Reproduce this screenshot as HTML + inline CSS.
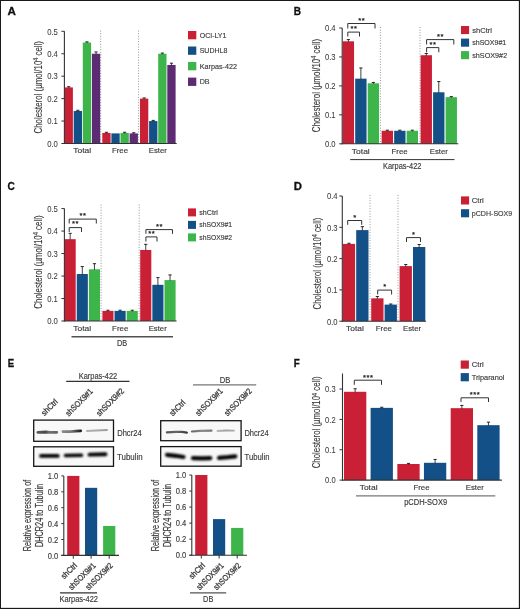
<!DOCTYPE html>
<html><head><meta charset="utf-8"><style>
html,body{margin:0;padding:0;background:#fff;}
svg{display:block;will-change:transform;font-family:"Liberation Sans",sans-serif;}
</style></head><body>
<svg width="520" height="609" viewBox="0 0 520 609">
<rect x="0" y="0" width="520" height="609" fill="#fff"/>
<text transform="translate(7.60,15.20) scale(1.0574,1)" font-size="11" text-anchor="start" fill="#111" font-weight="bold" stroke="#111" stroke-width="0.3">A</text>
<line x1="100.70" y1="30.60" x2="100.70" y2="143.50" stroke="#8a8a8a" stroke-width="0.9" stroke-dasharray="1,1.65"/>
<line x1="138.60" y1="30.60" x2="138.60" y2="143.50" stroke="#8a8a8a" stroke-width="0.9" stroke-dasharray="1,1.65"/>
<rect x="64.60" y="87.40" width="8.30" height="56.10" fill="#c92036"/>
<line x1="68.75" y1="86.73" x2="68.75" y2="87.90" stroke="#111" stroke-width="0.8"/>
<line x1="67.15" y1="86.73" x2="70.35" y2="86.73" stroke="#111" stroke-width="0.9"/>
<rect x="73.70" y="110.96" width="8.30" height="32.54" fill="#125087"/>
<line x1="77.85" y1="110.29" x2="77.85" y2="111.46" stroke="#111" stroke-width="0.8"/>
<line x1="76.25" y1="110.29" x2="79.45" y2="110.29" stroke="#111" stroke-width="0.9"/>
<rect x="82.80" y="42.52" width="8.30" height="100.98" fill="#3db54b"/>
<line x1="86.95" y1="41.85" x2="86.95" y2="43.02" stroke="#111" stroke-width="0.8"/>
<line x1="85.35" y1="41.85" x2="88.55" y2="41.85" stroke="#111" stroke-width="0.9"/>
<rect x="91.90" y="53.74" width="8.30" height="89.76" fill="#5d2a74"/>
<line x1="96.05" y1="51.94" x2="96.05" y2="54.24" stroke="#111" stroke-width="0.8"/>
<line x1="94.45" y1="51.94" x2="97.65" y2="51.94" stroke="#111" stroke-width="0.9"/>
<rect x="102.30" y="132.95" width="8.30" height="10.55" fill="#c92036"/>
<line x1="106.45" y1="132.28" x2="106.45" y2="133.45" stroke="#111" stroke-width="0.8"/>
<line x1="104.85" y1="132.28" x2="108.05" y2="132.28" stroke="#111" stroke-width="0.9"/>
<rect x="111.40" y="133.40" width="8.30" height="10.10" fill="#125087"/>
<rect x="120.50" y="132.95" width="8.30" height="10.55" fill="#3db54b"/>
<line x1="124.65" y1="132.28" x2="124.65" y2="133.45" stroke="#111" stroke-width="0.8"/>
<line x1="123.05" y1="132.28" x2="126.25" y2="132.28" stroke="#111" stroke-width="0.9"/>
<rect x="129.60" y="133.40" width="8.30" height="10.10" fill="#5d2a74"/>
<line x1="133.75" y1="132.73" x2="133.75" y2="133.90" stroke="#111" stroke-width="0.8"/>
<line x1="132.15" y1="132.73" x2="135.35" y2="132.73" stroke="#111" stroke-width="0.9"/>
<rect x="140.00" y="98.62" width="8.30" height="44.88" fill="#c92036"/>
<line x1="144.15" y1="97.95" x2="144.15" y2="99.12" stroke="#111" stroke-width="0.8"/>
<line x1="142.55" y1="97.95" x2="145.75" y2="97.95" stroke="#111" stroke-width="0.9"/>
<rect x="149.10" y="121.06" width="8.30" height="22.44" fill="#125087"/>
<line x1="153.25" y1="120.39" x2="153.25" y2="121.56" stroke="#111" stroke-width="0.8"/>
<line x1="151.65" y1="120.39" x2="154.85" y2="120.39" stroke="#111" stroke-width="0.9"/>
<rect x="158.20" y="53.74" width="8.30" height="89.76" fill="#3db54b"/>
<line x1="162.35" y1="53.07" x2="162.35" y2="54.24" stroke="#111" stroke-width="0.8"/>
<line x1="160.75" y1="53.07" x2="163.95" y2="53.07" stroke="#111" stroke-width="0.9"/>
<rect x="167.30" y="64.96" width="8.30" height="78.54" fill="#5d2a74"/>
<line x1="171.45" y1="63.16" x2="171.45" y2="65.46" stroke="#111" stroke-width="0.8"/>
<line x1="169.85" y1="63.16" x2="173.05" y2="63.16" stroke="#111" stroke-width="0.9"/>
<line x1="64.40" y1="31.30" x2="64.40" y2="144.00" stroke="#333333" stroke-width="1.1"/>
<line x1="63.90" y1="143.50" x2="176.70" y2="143.50" stroke="#333333" stroke-width="1.1"/>
<line x1="61.40" y1="143.50" x2="64.40" y2="143.50" stroke="#333333" stroke-width="1"/>
<text transform="translate(57.90,146.81) scale(0.9275,1)" font-size="8.3" text-anchor="end" fill="#3a3a3a" stroke="#3a3a3a" stroke-width="0.05">0.0</text>
<line x1="61.40" y1="121.06" x2="64.40" y2="121.06" stroke="#333333" stroke-width="1"/>
<text transform="translate(57.90,124.37) scale(0.9275,1)" font-size="8.3" text-anchor="end" fill="#3a3a3a" stroke="#3a3a3a" stroke-width="0.05">0.1</text>
<line x1="61.40" y1="98.62" x2="64.40" y2="98.62" stroke="#333333" stroke-width="1"/>
<text transform="translate(57.90,101.93) scale(0.9275,1)" font-size="8.3" text-anchor="end" fill="#3a3a3a" stroke="#3a3a3a" stroke-width="0.05">0.2</text>
<line x1="61.40" y1="76.18" x2="64.40" y2="76.18" stroke="#333333" stroke-width="1"/>
<text transform="translate(57.90,79.49) scale(0.9275,1)" font-size="8.3" text-anchor="end" fill="#3a3a3a" stroke="#3a3a3a" stroke-width="0.05">0.3</text>
<line x1="61.40" y1="53.74" x2="64.40" y2="53.74" stroke="#333333" stroke-width="1"/>
<text transform="translate(57.90,57.04) scale(0.9275,1)" font-size="8.3" text-anchor="end" fill="#3a3a3a" stroke="#3a3a3a" stroke-width="0.05">0.4</text>
<line x1="61.40" y1="31.30" x2="64.40" y2="31.30" stroke="#333333" stroke-width="1"/>
<text transform="translate(57.90,34.60) scale(0.9275,1)" font-size="8.3" text-anchor="end" fill="#3a3a3a" stroke="#3a3a3a" stroke-width="0.05">0.5</text>
<text transform="translate(82.20,153.40) scale(1.0593,1)" font-size="8.0" text-anchor="middle" fill="#3a3a3a" stroke="#3a3a3a" stroke-width="0.15">Total</text>
<text transform="translate(120.00,153.40) scale(0.9850,1)" font-size="8.0" text-anchor="middle" fill="#3a3a3a" stroke="#3a3a3a" stroke-width="0.15">Free</text>
<text transform="translate(157.80,153.40) scale(0.9694,1)" font-size="8.0" text-anchor="middle" fill="#3a3a3a" stroke="#3a3a3a" stroke-width="0.15">Ester</text>
<g transform="translate(41.50,87.20) rotate(-90) scale(0.7645,1)"><text x="-60.50" y="0" font-size="10.3" fill="#3a3a3a" stroke="#3a3a3a" stroke-width="0.12">Cholesterol (µmol/10<tspan font-size="7.21" dy="-3.71">4</tspan><tspan dy="3.71"> cell)</tspan></text></g>
<rect x="188.00" y="31.00" width="8.30" height="8.30" fill="#c92036"/>
<text transform="translate(199.70,37.88) scale(0.9004,1)" font-size="7.8" text-anchor="start" fill="#3a3a3a" stroke="#3a3a3a" stroke-width="0.15">OCI-LY1</text>
<rect x="188.00" y="46.50" width="8.30" height="8.30" fill="#125087"/>
<text transform="translate(199.70,53.38) scale(0.9000,1)" font-size="7.8" text-anchor="start" fill="#3a3a3a" stroke="#3a3a3a" stroke-width="0.15">SUDHL8</text>
<rect x="188.00" y="62.00" width="8.30" height="8.30" fill="#3db54b"/>
<text transform="translate(199.70,68.88) scale(0.9226,1)" font-size="7.8" text-anchor="start" fill="#3a3a3a" stroke="#3a3a3a" stroke-width="0.15">Karpas-422</text>
<rect x="188.00" y="77.60" width="8.30" height="8.30" fill="#5d2a74"/>
<text transform="translate(199.70,84.48) scale(0.9136,1)" font-size="7.8" text-anchor="start" fill="#3a3a3a" stroke="#3a3a3a" stroke-width="0.15">DB</text>
<text transform="translate(293.80,15.00)" font-size="10" text-anchor="start" fill="#111" font-weight="bold" stroke="#111" stroke-width="0.3">B</text>
<line x1="380.40" y1="27.00" x2="380.40" y2="143.80" stroke="#8a8a8a" stroke-width="0.9" stroke-dasharray="1,1.65"/>
<line x1="420.00" y1="27.00" x2="420.00" y2="143.80" stroke="#8a8a8a" stroke-width="0.9" stroke-dasharray="1,1.65"/>
<rect x="342.70" y="41.32" width="11.35" height="102.48" fill="#c92036"/>
<line x1="348.38" y1="39.58" x2="348.38" y2="41.82" stroke="#111" stroke-width="0.8"/>
<line x1="346.77" y1="39.58" x2="349.98" y2="39.58" stroke="#111" stroke-width="0.9"/>
<rect x="355.20" y="78.66" width="11.35" height="65.14" fill="#125087"/>
<line x1="360.88" y1="67.95" x2="360.88" y2="79.16" stroke="#111" stroke-width="0.8"/>
<line x1="359.27" y1="67.95" x2="362.48" y2="67.95" stroke="#111" stroke-width="0.9"/>
<rect x="367.70" y="83.29" width="11.35" height="60.51" fill="#3db54b"/>
<line x1="373.38" y1="82.43" x2="373.38" y2="83.79" stroke="#111" stroke-width="0.8"/>
<line x1="371.77" y1="82.43" x2="374.98" y2="82.43" stroke="#111" stroke-width="0.9"/>
<rect x="381.65" y="130.77" width="11.35" height="13.03" fill="#c92036"/>
<line x1="387.32" y1="130.19" x2="387.32" y2="131.27" stroke="#111" stroke-width="0.8"/>
<line x1="385.72" y1="130.19" x2="388.93" y2="130.19" stroke="#111" stroke-width="0.9"/>
<rect x="394.15" y="130.77" width="11.35" height="13.03" fill="#125087"/>
<line x1="399.82" y1="130.19" x2="399.82" y2="131.27" stroke="#111" stroke-width="0.8"/>
<line x1="398.22" y1="130.19" x2="401.43" y2="130.19" stroke="#111" stroke-width="0.9"/>
<rect x="406.65" y="130.77" width="11.35" height="13.03" fill="#3db54b"/>
<line x1="412.32" y1="130.19" x2="412.32" y2="131.27" stroke="#111" stroke-width="0.8"/>
<line x1="410.72" y1="130.19" x2="413.93" y2="130.19" stroke="#111" stroke-width="0.9"/>
<rect x="420.60" y="55.21" width="11.35" height="88.59" fill="#c92036"/>
<line x1="426.28" y1="53.48" x2="426.28" y2="55.71" stroke="#111" stroke-width="0.8"/>
<line x1="424.68" y1="53.48" x2="427.88" y2="53.48" stroke="#111" stroke-width="0.9"/>
<rect x="433.10" y="92.27" width="11.35" height="51.53" fill="#125087"/>
<line x1="438.78" y1="81.56" x2="438.78" y2="92.77" stroke="#111" stroke-width="0.8"/>
<line x1="437.18" y1="81.56" x2="440.38" y2="81.56" stroke="#111" stroke-width="0.9"/>
<rect x="445.60" y="97.19" width="11.35" height="46.61" fill="#3db54b"/>
<line x1="451.28" y1="96.61" x2="451.28" y2="97.69" stroke="#111" stroke-width="0.8"/>
<line x1="449.68" y1="96.61" x2="452.88" y2="96.61" stroke="#111" stroke-width="0.9"/>
<line x1="342.20" y1="28.00" x2="342.20" y2="144.30" stroke="#333333" stroke-width="1.1"/>
<line x1="341.70" y1="143.80" x2="458.30" y2="143.80" stroke="#333333" stroke-width="1.1"/>
<line x1="339.20" y1="143.80" x2="342.20" y2="143.80" stroke="#333333" stroke-width="1"/>
<text transform="translate(335.50,147.11) scale(0.9188,1)" font-size="8.3" text-anchor="end" fill="#3a3a3a" stroke="#3a3a3a" stroke-width="0.05">0.0</text>
<line x1="339.20" y1="114.85" x2="342.20" y2="114.85" stroke="#333333" stroke-width="1"/>
<text transform="translate(335.50,118.16) scale(0.9188,1)" font-size="8.3" text-anchor="end" fill="#3a3a3a" stroke="#3a3a3a" stroke-width="0.05">0.1</text>
<line x1="339.20" y1="85.90" x2="342.20" y2="85.90" stroke="#333333" stroke-width="1"/>
<text transform="translate(335.50,89.21) scale(0.9188,1)" font-size="8.3" text-anchor="end" fill="#3a3a3a" stroke="#3a3a3a" stroke-width="0.05">0.2</text>
<line x1="339.20" y1="56.95" x2="342.20" y2="56.95" stroke="#333333" stroke-width="1"/>
<text transform="translate(335.50,60.26) scale(0.9188,1)" font-size="8.3" text-anchor="end" fill="#3a3a3a" stroke="#3a3a3a" stroke-width="0.05">0.3</text>
<line x1="339.20" y1="28.00" x2="342.20" y2="28.00" stroke="#333333" stroke-width="1"/>
<text transform="translate(335.50,31.30) scale(0.9188,1)" font-size="8.3" text-anchor="end" fill="#3a3a3a" stroke="#3a3a3a" stroke-width="0.05">0.4</text>
<text transform="translate(360.80,153.60) scale(1.0593,1)" font-size="8.0" text-anchor="middle" fill="#3a3a3a" stroke="#3a3a3a" stroke-width="0.15">Total</text>
<text transform="translate(399.60,153.60) scale(0.9850,1)" font-size="8.0" text-anchor="middle" fill="#3a3a3a" stroke="#3a3a3a" stroke-width="0.15">Free</text>
<text transform="translate(438.80,153.60) scale(0.9694,1)" font-size="8.0" text-anchor="middle" fill="#3a3a3a" stroke="#3a3a3a" stroke-width="0.15">Ester</text>
<g transform="translate(319.50,85.50) rotate(-90) scale(0.7728,1)"><text x="-60.50" y="0" font-size="10.3" fill="#3a3a3a" stroke="#3a3a3a" stroke-width="0.12">Cholesterol (µmol/10<tspan font-size="7.21" dy="-3.71">4</tspan><tspan dy="3.71"> cell)</tspan></text></g>
<path d="M347.80,36.50 V32.10 H359.50 V36.50" fill="none" stroke="#333333" stroke-width="1"/>
<text transform="translate(351.90,31.13)" font-size="7.6" text-anchor="middle" fill="#222" stroke="#222" stroke-width="0.25">*</text>
<text transform="translate(355.40,31.13)" font-size="7.6" text-anchor="middle" fill="#222" stroke="#222" stroke-width="0.25">*</text>
<path d="M347.80,28.50 V23.50 H375.00 V28.50" fill="none" stroke="#333333" stroke-width="1"/>
<text transform="translate(359.65,22.93)" font-size="7.6" text-anchor="middle" fill="#222" stroke="#222" stroke-width="0.25">*</text>
<text transform="translate(363.15,22.93)" font-size="7.6" text-anchor="middle" fill="#222" stroke="#222" stroke-width="0.25">*</text>
<path d="M426.60,52.30 V47.60 H438.80 V52.30" fill="none" stroke="#333333" stroke-width="1"/>
<text transform="translate(430.95,46.73)" font-size="7.6" text-anchor="middle" fill="#222" stroke="#222" stroke-width="0.25">*</text>
<text transform="translate(434.45,46.73)" font-size="7.6" text-anchor="middle" fill="#222" stroke="#222" stroke-width="0.25">*</text>
<path d="M426.60,44.50 V39.60 H453.80 V44.50" fill="none" stroke="#333333" stroke-width="1"/>
<text transform="translate(438.45,38.73)" font-size="7.6" text-anchor="middle" fill="#222" stroke="#222" stroke-width="0.25">*</text>
<text transform="translate(441.95,38.73)" font-size="7.6" text-anchor="middle" fill="#222" stroke="#222" stroke-width="0.25">*</text>
<rect x="461.00" y="26.00" width="8.10" height="8.10" fill="#c92036"/>
<text transform="translate(472.20,32.58) scale(0.9721,1)" font-size="7.8" text-anchor="start" fill="#3a3a3a" stroke="#3a3a3a" stroke-width="0.15">shCtrl</text>
<rect x="461.00" y="38.60" width="8.10" height="8.10" fill="#125087"/>
<text transform="translate(472.20,45.18) scale(0.9040,1)" font-size="7.8" text-anchor="start" fill="#3a3a3a" stroke="#3a3a3a" stroke-width="0.15">shSOX9#1</text>
<rect x="461.00" y="51.10" width="8.10" height="8.10" fill="#3db54b"/>
<text transform="translate(472.20,57.68) scale(0.9278,1)" font-size="7.8" text-anchor="start" fill="#3a3a3a" stroke="#3a3a3a" stroke-width="0.15">shSOX9#2</text>
<line x1="350.20" y1="159.60" x2="454.50" y2="159.60" stroke="#333333" stroke-width="1"/>
<text transform="translate(402.20,168.80) scale(0.8973,1)" font-size="8.3" text-anchor="middle" fill="#3a3a3a" stroke="#3a3a3a" stroke-width="0.15">Karpas-422</text>
<text transform="translate(7.60,190.20) scale(0.9627,1)" font-size="10.5" text-anchor="start" fill="#111" font-weight="bold" stroke="#111" stroke-width="0.3">C</text>
<line x1="101.10" y1="204.60" x2="101.10" y2="321.00" stroke="#8a8a8a" stroke-width="0.9" stroke-dasharray="1,1.65"/>
<line x1="139.20" y1="204.60" x2="139.20" y2="321.00" stroke="#8a8a8a" stroke-width="0.9" stroke-dasharray="1,1.65"/>
<rect x="64.60" y="239.17" width="11.10" height="81.83" fill="#c92036"/>
<line x1="70.15" y1="233.33" x2="70.15" y2="239.67" stroke="#111" stroke-width="0.8"/>
<line x1="68.55" y1="233.33" x2="71.75" y2="233.33" stroke="#111" stroke-width="0.9"/>
<rect x="76.75" y="274.02" width="11.10" height="46.98" fill="#125087"/>
<line x1="82.30" y1="266.60" x2="82.30" y2="274.52" stroke="#111" stroke-width="0.8"/>
<line x1="80.70" y1="266.60" x2="83.90" y2="266.60" stroke="#111" stroke-width="0.9"/>
<rect x="88.90" y="269.30" width="11.10" height="51.70" fill="#3db54b"/>
<line x1="94.45" y1="263.68" x2="94.45" y2="269.80" stroke="#111" stroke-width="0.8"/>
<line x1="92.85" y1="263.68" x2="96.05" y2="263.68" stroke="#111" stroke-width="0.9"/>
<rect x="102.40" y="310.88" width="11.10" height="10.12" fill="#c92036"/>
<line x1="107.95" y1="310.21" x2="107.95" y2="311.38" stroke="#111" stroke-width="0.8"/>
<line x1="106.35" y1="310.21" x2="109.55" y2="310.21" stroke="#111" stroke-width="0.9"/>
<rect x="114.55" y="310.88" width="11.10" height="10.12" fill="#125087"/>
<line x1="120.10" y1="310.21" x2="120.10" y2="311.38" stroke="#111" stroke-width="0.8"/>
<line x1="118.50" y1="310.21" x2="121.70" y2="310.21" stroke="#111" stroke-width="0.9"/>
<rect x="126.70" y="310.88" width="11.10" height="10.12" fill="#3db54b"/>
<line x1="132.25" y1="310.21" x2="132.25" y2="311.38" stroke="#111" stroke-width="0.8"/>
<line x1="130.65" y1="310.21" x2="133.85" y2="310.21" stroke="#111" stroke-width="0.9"/>
<rect x="140.20" y="249.96" width="11.10" height="71.04" fill="#c92036"/>
<line x1="145.75" y1="244.34" x2="145.75" y2="250.46" stroke="#111" stroke-width="0.8"/>
<line x1="144.15" y1="244.34" x2="147.35" y2="244.34" stroke="#111" stroke-width="0.9"/>
<rect x="152.35" y="284.81" width="11.10" height="36.19" fill="#125087"/>
<line x1="157.90" y1="277.61" x2="157.90" y2="285.31" stroke="#111" stroke-width="0.8"/>
<line x1="156.30" y1="277.61" x2="159.50" y2="277.61" stroke="#111" stroke-width="0.9"/>
<rect x="164.50" y="280.09" width="11.10" height="40.91" fill="#3db54b"/>
<line x1="170.05" y1="274.92" x2="170.05" y2="280.59" stroke="#111" stroke-width="0.8"/>
<line x1="168.45" y1="274.92" x2="171.65" y2="274.92" stroke="#111" stroke-width="0.9"/>
<line x1="64.40" y1="208.60" x2="64.40" y2="321.50" stroke="#333333" stroke-width="1.1"/>
<line x1="63.90" y1="321.00" x2="176.60" y2="321.00" stroke="#333333" stroke-width="1.1"/>
<line x1="61.40" y1="321.00" x2="64.40" y2="321.00" stroke="#333333" stroke-width="1"/>
<text transform="translate(57.90,324.30) scale(0.9275,1)" font-size="8.3" text-anchor="end" fill="#3a3a3a" stroke="#3a3a3a" stroke-width="0.05">0.0</text>
<line x1="61.40" y1="298.52" x2="64.40" y2="298.52" stroke="#333333" stroke-width="1"/>
<text transform="translate(57.90,301.82) scale(0.9275,1)" font-size="8.3" text-anchor="end" fill="#3a3a3a" stroke="#3a3a3a" stroke-width="0.05">0.1</text>
<line x1="61.40" y1="276.04" x2="64.40" y2="276.04" stroke="#333333" stroke-width="1"/>
<text transform="translate(57.90,279.34) scale(0.9275,1)" font-size="8.3" text-anchor="end" fill="#3a3a3a" stroke="#3a3a3a" stroke-width="0.05">0.2</text>
<line x1="61.40" y1="253.56" x2="64.40" y2="253.56" stroke="#333333" stroke-width="1"/>
<text transform="translate(57.90,256.86) scale(0.9275,1)" font-size="8.3" text-anchor="end" fill="#3a3a3a" stroke="#3a3a3a" stroke-width="0.05">0.3</text>
<line x1="61.40" y1="231.08" x2="64.40" y2="231.08" stroke="#333333" stroke-width="1"/>
<text transform="translate(57.90,234.38) scale(0.9275,1)" font-size="8.3" text-anchor="end" fill="#3a3a3a" stroke="#3a3a3a" stroke-width="0.05">0.4</text>
<line x1="61.40" y1="208.60" x2="64.40" y2="208.60" stroke="#333333" stroke-width="1"/>
<text transform="translate(57.90,211.91) scale(0.9275,1)" font-size="8.3" text-anchor="end" fill="#3a3a3a" stroke="#3a3a3a" stroke-width="0.05">0.5</text>
<text transform="translate(82.20,330.90) scale(1.0593,1)" font-size="8.0" text-anchor="middle" fill="#3a3a3a" stroke="#3a3a3a" stroke-width="0.15">Total</text>
<text transform="translate(120.20,330.90) scale(0.9850,1)" font-size="8.0" text-anchor="middle" fill="#3a3a3a" stroke="#3a3a3a" stroke-width="0.15">Free</text>
<text transform="translate(157.70,330.90) scale(0.9694,1)" font-size="8.0" text-anchor="middle" fill="#3a3a3a" stroke="#3a3a3a" stroke-width="0.15">Ester</text>
<g transform="translate(41.80,262.00) rotate(-90) scale(0.7728,1)"><text x="-60.50" y="0" font-size="10.3" fill="#3a3a3a" stroke="#3a3a3a" stroke-width="0.12">Cholesterol (µmol/10<tspan font-size="7.21" dy="-3.71">4</tspan><tspan dy="3.71"> cell)</tspan></text></g>
<path d="M69.20,232.00 V227.60 H81.50 V232.00" fill="none" stroke="#333333" stroke-width="1"/>
<text transform="translate(73.60,226.43)" font-size="7.6" text-anchor="middle" fill="#222" stroke="#222" stroke-width="0.25">*</text>
<text transform="translate(77.10,226.43)" font-size="7.6" text-anchor="middle" fill="#222" stroke="#222" stroke-width="0.25">*</text>
<path d="M69.20,223.50 V219.10 H96.30 V223.50" fill="none" stroke="#333333" stroke-width="1"/>
<text transform="translate(81.00,218.43)" font-size="7.6" text-anchor="middle" fill="#222" stroke="#222" stroke-width="0.25">*</text>
<text transform="translate(84.50,218.43)" font-size="7.6" text-anchor="middle" fill="#222" stroke="#222" stroke-width="0.25">*</text>
<path d="M145.90,241.60 V236.90 H157.00 V241.60" fill="none" stroke="#333333" stroke-width="1"/>
<text transform="translate(149.70,235.93)" font-size="7.6" text-anchor="middle" fill="#222" stroke="#222" stroke-width="0.25">*</text>
<text transform="translate(153.20,235.93)" font-size="7.6" text-anchor="middle" fill="#222" stroke="#222" stroke-width="0.25">*</text>
<path d="M145.90,233.80 V229.60 H172.50 V233.80" fill="none" stroke="#333333" stroke-width="1"/>
<text transform="translate(157.45,228.63)" font-size="7.6" text-anchor="middle" fill="#222" stroke="#222" stroke-width="0.25">*</text>
<text transform="translate(160.95,228.63)" font-size="7.6" text-anchor="middle" fill="#222" stroke="#222" stroke-width="0.25">*</text>
<line x1="71.50" y1="336.70" x2="173.00" y2="336.70" stroke="#505050" stroke-width="1.4"/>
<text transform="translate(122.10,346.40) scale(0.8846,1)" font-size="8.3" text-anchor="middle" fill="#3a3a3a" stroke="#3a3a3a" stroke-width="0.15">DB</text>
<rect x="188.00" y="208.40" width="8.00" height="8.00" fill="#c92036"/>
<text transform="translate(199.30,214.73) scale(0.9181,1)" font-size="7.8" text-anchor="start" fill="#3a3a3a" stroke="#3a3a3a" stroke-width="0.15">shCtrl</text>
<rect x="188.00" y="220.90" width="8.00" height="8.00" fill="#125087"/>
<text transform="translate(199.30,227.23) scale(0.8669,1)" font-size="7.8" text-anchor="start" fill="#3a3a3a" stroke="#3a3a3a" stroke-width="0.15">shSOX9#1</text>
<rect x="188.00" y="233.40" width="8.00" height="8.00" fill="#3db54b"/>
<text transform="translate(199.30,239.73) scale(0.8669,1)" font-size="7.8" text-anchor="start" fill="#3a3a3a" stroke="#3a3a3a" stroke-width="0.15">shSOX9#2</text>
<text transform="translate(293.80,190.30) scale(1.0814,1)" font-size="10.5" text-anchor="start" fill="#111" font-weight="bold" stroke="#111" stroke-width="0.3">D</text>
<line x1="370.00" y1="195.00" x2="370.00" y2="321.20" stroke="#8a8a8a" stroke-width="0.9" stroke-dasharray="1,1.65"/>
<line x1="398.00" y1="195.00" x2="398.00" y2="321.20" stroke="#8a8a8a" stroke-width="0.9" stroke-dasharray="1,1.65"/>
<rect x="342.80" y="243.89" width="12.30" height="77.31" fill="#c92036"/>
<line x1="348.95" y1="243.26" x2="348.95" y2="244.39" stroke="#111" stroke-width="0.8"/>
<line x1="347.35" y1="243.26" x2="350.55" y2="243.26" stroke="#111" stroke-width="0.9"/>
<rect x="356.20" y="230.12" width="12.30" height="91.08" fill="#125087"/>
<line x1="362.35" y1="226.67" x2="362.35" y2="230.62" stroke="#111" stroke-width="0.8"/>
<line x1="360.75" y1="226.67" x2="363.95" y2="226.67" stroke="#111" stroke-width="0.9"/>
<rect x="371.20" y="298.35" width="12.30" height="22.85" fill="#c92036"/>
<line x1="377.35" y1="296.47" x2="377.35" y2="298.85" stroke="#111" stroke-width="0.8"/>
<line x1="375.75" y1="296.47" x2="378.95" y2="296.47" stroke="#111" stroke-width="0.9"/>
<rect x="384.60" y="304.61" width="12.30" height="16.59" fill="#125087"/>
<line x1="390.75" y1="303.99" x2="390.75" y2="305.11" stroke="#111" stroke-width="0.8"/>
<line x1="389.15" y1="303.99" x2="392.35" y2="303.99" stroke="#111" stroke-width="0.9"/>
<rect x="399.60" y="266.11" width="12.30" height="55.09" fill="#c92036"/>
<line x1="405.75" y1="264.55" x2="405.75" y2="266.61" stroke="#111" stroke-width="0.8"/>
<line x1="404.15" y1="264.55" x2="407.35" y2="264.55" stroke="#111" stroke-width="0.9"/>
<rect x="413.00" y="247.02" width="12.30" height="74.18" fill="#125087"/>
<line x1="419.15" y1="244.51" x2="419.15" y2="247.52" stroke="#111" stroke-width="0.8"/>
<line x1="417.55" y1="244.51" x2="420.75" y2="244.51" stroke="#111" stroke-width="0.9"/>
<line x1="342.30" y1="196.00" x2="342.30" y2="321.70" stroke="#333333" stroke-width="1.1"/>
<line x1="341.80" y1="321.20" x2="426.00" y2="321.20" stroke="#333333" stroke-width="1.1"/>
<line x1="339.30" y1="321.20" x2="342.30" y2="321.20" stroke="#333333" stroke-width="1"/>
<text transform="translate(337.60,324.50) scale(0.9188,1)" font-size="8.3" text-anchor="end" fill="#3a3a3a" stroke="#3a3a3a" stroke-width="0.05">0.0</text>
<line x1="339.30" y1="289.90" x2="342.30" y2="289.90" stroke="#333333" stroke-width="1"/>
<text transform="translate(337.60,293.20) scale(0.9188,1)" font-size="8.3" text-anchor="end" fill="#3a3a3a" stroke="#3a3a3a" stroke-width="0.05">0.1</text>
<line x1="339.30" y1="258.60" x2="342.30" y2="258.60" stroke="#333333" stroke-width="1"/>
<text transform="translate(337.60,261.90) scale(0.9188,1)" font-size="8.3" text-anchor="end" fill="#3a3a3a" stroke="#3a3a3a" stroke-width="0.05">0.2</text>
<line x1="339.30" y1="227.30" x2="342.30" y2="227.30" stroke="#333333" stroke-width="1"/>
<text transform="translate(337.60,230.61) scale(0.9188,1)" font-size="8.3" text-anchor="end" fill="#3a3a3a" stroke="#3a3a3a" stroke-width="0.05">0.3</text>
<line x1="339.30" y1="196.00" x2="342.30" y2="196.00" stroke="#333333" stroke-width="1"/>
<text transform="translate(337.60,199.31) scale(0.9188,1)" font-size="8.3" text-anchor="end" fill="#3a3a3a" stroke="#3a3a3a" stroke-width="0.05">0.4</text>
<text transform="translate(355.00,331.10) scale(1.0593,1)" font-size="8.0" text-anchor="middle" fill="#3a3a3a" stroke="#3a3a3a" stroke-width="0.15">Total</text>
<text transform="translate(383.90,331.10) scale(0.9850,1)" font-size="8.0" text-anchor="middle" fill="#3a3a3a" stroke="#3a3a3a" stroke-width="0.15">Free</text>
<text transform="translate(412.00,331.10) scale(0.9694,1)" font-size="8.0" text-anchor="middle" fill="#3a3a3a" stroke="#3a3a3a" stroke-width="0.15">Ester</text>
<g transform="translate(320.50,263.50) rotate(-90) scale(0.7604,1)"><text x="-60.50" y="0" font-size="10.3" fill="#3a3a3a" stroke="#3a3a3a" stroke-width="0.12">Cholesterol (µmol/10<tspan font-size="7.21" dy="-3.71">4</tspan><tspan dy="3.71"> cell)</tspan></text></g>
<path d="M347.70,224.80 V220.50 H361.70 V224.80" fill="none" stroke="#333333" stroke-width="1"/>
<text transform="translate(354.70,219.53)" font-size="7.6" text-anchor="middle" fill="#222" stroke="#222" stroke-width="0.25">*</text>
<path d="M377.70,294.50 V290.10 H391.60 V294.50" fill="none" stroke="#333333" stroke-width="1"/>
<text transform="translate(384.65,289.43)" font-size="7.6" text-anchor="middle" fill="#222" stroke="#222" stroke-width="0.25">*</text>
<path d="M406.50,242.00 V237.60 H420.50 V242.00" fill="none" stroke="#333333" stroke-width="1"/>
<text transform="translate(413.50,236.93)" font-size="7.6" text-anchor="middle" fill="#222" stroke="#222" stroke-width="0.25">*</text>
<rect x="461.00" y="196.40" width="8.10" height="8.10" fill="#c92036"/>
<text transform="translate(471.80,202.75) scale(0.9645,1)" font-size="8.0" text-anchor="start" fill="#3a3a3a" stroke="#3a3a3a" stroke-width="0.15">Ctrl</text>
<rect x="461.00" y="209.20" width="8.10" height="8.10" fill="#125087"/>
<text transform="translate(471.80,215.55) scale(0.8845,1)" font-size="8.0" text-anchor="start" fill="#3a3a3a" stroke="#3a3a3a" stroke-width="0.15">pCDH-SOX9</text>
<text transform="translate(293.80,367.30) scale(0.9356,1)" font-size="10.5" text-anchor="start" fill="#111" font-weight="bold" stroke="#111" stroke-width="0.3">F</text>
<rect x="344.00" y="391.78" width="22.30" height="88.32" fill="#c92036"/>
<line x1="355.15" y1="388.75" x2="355.15" y2="392.28" stroke="#111" stroke-width="0.8"/>
<line x1="353.55" y1="388.75" x2="356.75" y2="388.75" stroke="#111" stroke-width="0.9"/>
<rect x="370.60" y="407.87" width="22.30" height="72.23" fill="#125087"/>
<line x1="381.75" y1="407.26" x2="381.75" y2="408.37" stroke="#111" stroke-width="0.8"/>
<line x1="380.15" y1="407.26" x2="383.35" y2="407.26" stroke="#111" stroke-width="0.9"/>
<rect x="397.35" y="464.01" width="22.30" height="16.09" fill="#c92036"/>
<line x1="408.50" y1="463.41" x2="408.50" y2="464.51" stroke="#111" stroke-width="0.8"/>
<line x1="406.90" y1="463.41" x2="410.10" y2="463.41" stroke="#111" stroke-width="0.9"/>
<rect x="423.95" y="462.80" width="22.30" height="17.30" fill="#125087"/>
<line x1="435.10" y1="459.46" x2="435.10" y2="463.30" stroke="#111" stroke-width="0.8"/>
<line x1="433.50" y1="459.46" x2="436.70" y2="459.46" stroke="#111" stroke-width="0.9"/>
<rect x="450.70" y="408.17" width="22.30" height="71.93" fill="#c92036"/>
<line x1="461.85" y1="405.44" x2="461.85" y2="408.67" stroke="#111" stroke-width="0.8"/>
<line x1="460.25" y1="405.44" x2="463.45" y2="405.44" stroke="#111" stroke-width="0.9"/>
<rect x="477.30" y="425.17" width="22.30" height="54.93" fill="#125087"/>
<line x1="488.45" y1="422.13" x2="488.45" y2="425.67" stroke="#111" stroke-width="0.8"/>
<line x1="486.85" y1="422.13" x2="490.05" y2="422.13" stroke="#111" stroke-width="0.9"/>
<line x1="342.50" y1="373.50" x2="342.50" y2="480.60" stroke="#333333" stroke-width="1.1"/>
<line x1="342.00" y1="480.10" x2="501.90" y2="480.10" stroke="#333333" stroke-width="1.1"/>
<line x1="339.50" y1="480.10" x2="342.50" y2="480.10" stroke="#333333" stroke-width="1"/>
<text transform="translate(335.60,483.40) scale(0.9101,1)" font-size="8.3" text-anchor="end" fill="#3a3a3a" stroke="#3a3a3a" stroke-width="0.05">0.0</text>
<line x1="339.50" y1="449.75" x2="342.50" y2="449.75" stroke="#333333" stroke-width="1"/>
<text transform="translate(335.60,453.05) scale(0.9101,1)" font-size="8.3" text-anchor="end" fill="#3a3a3a" stroke="#3a3a3a" stroke-width="0.05">0.1</text>
<line x1="339.50" y1="419.40" x2="342.50" y2="419.40" stroke="#333333" stroke-width="1"/>
<text transform="translate(335.60,422.70) scale(0.9101,1)" font-size="8.3" text-anchor="end" fill="#3a3a3a" stroke="#3a3a3a" stroke-width="0.05">0.2</text>
<line x1="339.50" y1="389.05" x2="342.50" y2="389.05" stroke="#333333" stroke-width="1"/>
<text transform="translate(335.60,392.35) scale(0.9101,1)" font-size="8.3" text-anchor="end" fill="#3a3a3a" stroke="#3a3a3a" stroke-width="0.05">0.3</text>
<text transform="translate(368.60,489.60) scale(1.0593,1)" font-size="8.0" text-anchor="middle" fill="#3a3a3a" stroke="#3a3a3a" stroke-width="0.15">Total</text>
<text transform="translate(421.50,489.60) scale(0.9850,1)" font-size="8.0" text-anchor="middle" fill="#3a3a3a" stroke="#3a3a3a" stroke-width="0.15">Free</text>
<text transform="translate(474.80,489.60) scale(0.9694,1)" font-size="8.0" text-anchor="middle" fill="#3a3a3a" stroke="#3a3a3a" stroke-width="0.15">Ester</text>
<g transform="translate(320.30,422.20) rotate(-90) scale(0.7620,1)"><text x="-60.50" y="0" font-size="10.3" fill="#3a3a3a" stroke="#3a3a3a" stroke-width="0.12">Cholesterol (µmol/10<tspan font-size="7.21" dy="-3.71">4</tspan><tspan dy="3.71"> cell)</tspan></text></g>
<path d="M354.30,384.80 V380.20 H381.50 V384.80" fill="none" stroke="#333333" stroke-width="1"/>
<text transform="translate(364.40,379.53)" font-size="7.6" text-anchor="middle" fill="#222" stroke="#222" stroke-width="0.25">*</text>
<text transform="translate(367.90,379.53)" font-size="7.6" text-anchor="middle" fill="#222" stroke="#222" stroke-width="0.25">*</text>
<text transform="translate(371.40,379.53)" font-size="7.6" text-anchor="middle" fill="#222" stroke="#222" stroke-width="0.25">*</text>
<path d="M461.00,402.00 V397.80 H488.50 V402.00" fill="none" stroke="#333333" stroke-width="1"/>
<text transform="translate(471.25,397.23)" font-size="7.6" text-anchor="middle" fill="#222" stroke="#222" stroke-width="0.25">*</text>
<text transform="translate(474.75,397.23)" font-size="7.6" text-anchor="middle" fill="#222" stroke="#222" stroke-width="0.25">*</text>
<text transform="translate(478.25,397.23)" font-size="7.6" text-anchor="middle" fill="#222" stroke="#222" stroke-width="0.25">*</text>
<line x1="356.00" y1="495.90" x2="495.30" y2="495.90" stroke="#777" stroke-width="1.4"/>
<text transform="translate(425.60,505.40) scale(0.9052,1)" font-size="8.3" text-anchor="middle" fill="#3a3a3a" stroke="#3a3a3a" stroke-width="0.15">pCDH-SOX9</text>
<rect x="460.70" y="360.50" width="8.20" height="8.20" fill="#c92036"/>
<text transform="translate(471.70,366.90) scale(0.9645,1)" font-size="8.0" text-anchor="start" fill="#3a3a3a" stroke="#3a3a3a" stroke-width="0.15">Ctrl</text>
<rect x="460.70" y="373.10" width="8.20" height="8.20" fill="#125087"/>
<text transform="translate(471.70,379.50) scale(0.9183,1)" font-size="8.0" text-anchor="start" fill="#3a3a3a" stroke="#3a3a3a" stroke-width="0.15">Triparanol</text>
<text transform="translate(7.80,367.00) scale(0.8723,1)" font-size="11" text-anchor="start" fill="#111" font-weight="bold" stroke="#111" stroke-width="0.3">E</text>
<defs><filter id="bl" filterUnits="userSpaceOnUse" x="0" y="300" width="520" height="200"><feGaussianBlur stdDeviation="0.6"/></filter><filter id="bl2" filterUnits="userSpaceOnUse" x="0" y="300" width="520" height="200"><feGaussianBlur stdDeviation="0.85"/></filter></defs>
<text transform="translate(98.00,379.20) scale(0.9106,1)" font-size="8.2" text-anchor="middle" fill="#3a3a3a" stroke="#3a3a3a" stroke-width="0.15">Karpas-422</text>
<line x1="66.20" y1="381.40" x2="129.50" y2="381.40" stroke="#333" stroke-width="1.1"/>
<text transform="translate(44.61,416.20) rotate(-45) scale(0.9065,1)" font-size="8.3" text-anchor="start" fill="#3a3a3a" stroke="#333" stroke-width="0.28">shCtrl</text>
<text transform="translate(68.71,416.70) rotate(-45) scale(0.8735,1)" font-size="8.3" text-anchor="start" fill="#3a3a3a" stroke="#333" stroke-width="0.28">shSOX9#1</text>
<text transform="translate(99.41,416.70) rotate(-45) scale(0.8876,1)" font-size="8.3" text-anchor="start" fill="#3a3a3a" stroke="#333" stroke-width="0.28">shSOX9#2</text>
<rect x="33.70" y="420.10" width="79.80" height="21.20" fill="#f8f8f8" stroke="#161616" stroke-width="1.3"/>
<rect x="33.70" y="446.80" width="79.80" height="19.50" fill="#f8f8f8" stroke="#161616" stroke-width="1.3"/>
<linearGradient id="g1" gradientUnits="userSpaceOnUse" x1="37.8" y1="0" x2="56.8" y2="0"><stop offset="0" stop-color="#5a5a5a"/><stop offset="0.4" stop-color="#4a4a4a"/><stop offset="0.6" stop-color="#707070"/><stop offset="1" stop-color="#666"/></linearGradient>
<path d="M37.80,432.30 L46.00,432.00 L50.00,432.40 L56.80,432.30" fill="none" stroke="url(#g1)" stroke-width="2.8" stroke-linecap="round" stroke-linejoin="round" filter="url(#bl)" opacity="1"/>
<linearGradient id="g2" gradientUnits="userSpaceOnUse" x1="62.8" y1="0" x2="80.8" y2="0"><stop offset="0" stop-color="#8a8a8a"/><stop offset="0.5" stop-color="#777"/><stop offset="0.85" stop-color="#333"/><stop offset="1" stop-color="#222"/></linearGradient>
<path d="M62.80,431.60 L70.00,431.60 L76.00,431.10 L80.80,430.90" fill="none" stroke="url(#g2)" stroke-width="2.6" stroke-linecap="round" stroke-linejoin="round" filter="url(#bl)" opacity="1"/>
<linearGradient id="g3" gradientUnits="userSpaceOnUse" x1="87" y1="0" x2="107" y2="0"><stop offset="0" stop-color="#b0b0b0"/><stop offset="0.5" stop-color="#a8a8a8"/><stop offset="1" stop-color="#9c9c9c"/></linearGradient>
<path d="M87.00,431.00 L96.00,430.40 L107.00,429.90" fill="none" stroke="url(#g3)" stroke-width="2.0" stroke-linecap="round" stroke-linejoin="round" filter="url(#bl)" opacity="1"/>
<path d="M41.00,455.90 L57.80,455.90" fill="none" stroke="#000" stroke-width="3.8" stroke-linecap="round" stroke-linejoin="round" filter="url(#bl2)" opacity="1"/>
<path d="M65.50,455.50 L81.50,455.30" fill="none" stroke="#000" stroke-width="3.6" stroke-linecap="round" stroke-linejoin="round" filter="url(#bl2)" opacity="1"/>
<path d="M89.50,454.60 L105.50,454.30" fill="none" stroke="#000" stroke-width="3.9" stroke-linecap="round" stroke-linejoin="round" filter="url(#bl2)" opacity="1"/>
<text transform="translate(117.20,435.90) scale(0.9120,1)" font-size="8.3" text-anchor="start" fill="#3a3a3a" stroke="#3a3a3a" stroke-width="0.15">Dhcr24</text>
<text transform="translate(117.00,459.80) scale(0.9512,1)" font-size="8.3" text-anchor="start" fill="#3a3a3a" stroke="#3a3a3a" stroke-width="0.15">Tubulin</text>
<text transform="translate(225.00,382.50) scale(0.9305,1)" font-size="8.2" text-anchor="middle" fill="#3a3a3a" stroke="#3a3a3a" stroke-width="0.15">DB</text>
<line x1="193.00" y1="384.90" x2="256.20" y2="384.90" stroke="#777" stroke-width="1.3"/>
<text transform="translate(172.71,416.50) rotate(-45) scale(0.8673,1)" font-size="8.3" text-anchor="start" fill="#3a3a3a" stroke="#333" stroke-width="0.28">shCtrl</text>
<text transform="translate(198.71,416.50) rotate(-45) scale(0.8735,1)" font-size="8.3" text-anchor="start" fill="#3a3a3a" stroke="#333" stroke-width="0.28">shSOX9#1</text>
<text transform="translate(227.51,416.50) rotate(-45) scale(0.8735,1)" font-size="8.3" text-anchor="start" fill="#3a3a3a" stroke="#333" stroke-width="0.28">shSOX9#2</text>
<rect x="160.70" y="420.70" width="80.40" height="20.00" fill="#f8f8f8" stroke="#161616" stroke-width="1.3"/>
<rect x="160.70" y="446.60" width="80.40" height="19.60" fill="#f8f8f8" stroke="#161616" stroke-width="1.3"/>
<linearGradient id="g4" gradientUnits="userSpaceOnUse" x1="167" y1="0" x2="186.8" y2="0"><stop offset="0" stop-color="#555"/><stop offset="0.5" stop-color="#666"/><stop offset="1" stop-color="#3a3a3a"/></linearGradient>
<path d="M167.00,432.40 L176.00,431.90 L182.00,431.90 L186.80,432.60" fill="none" stroke="url(#g4)" stroke-width="2.4" stroke-linecap="round" stroke-linejoin="round" filter="url(#bl)" opacity="1"/>
<linearGradient id="g5" gradientUnits="userSpaceOnUse" x1="192" y1="0" x2="211.5" y2="0"><stop offset="0" stop-color="#666"/><stop offset="0.5" stop-color="#8a8a8a"/><stop offset="1" stop-color="#777"/></linearGradient>
<path d="M192.00,431.50 L200.00,430.90 L211.50,430.70" fill="none" stroke="url(#g5)" stroke-width="2.2" stroke-linecap="round" stroke-linejoin="round" filter="url(#bl)" opacity="1"/>
<linearGradient id="g6" gradientUnits="userSpaceOnUse" x1="217.5" y1="0" x2="234" y2="0"><stop offset="0" stop-color="#b5b5b5"/><stop offset="0.5" stop-color="#a0a0a0"/><stop offset="1" stop-color="#aaa"/></linearGradient>
<path d="M217.50,431.00 L226.00,430.50 L234.00,430.60" fill="none" stroke="url(#g6)" stroke-width="1.9" stroke-linecap="round" stroke-linejoin="round" filter="url(#bl)" opacity="1"/>
<path d="M167.00,454.80 L176.00,455.80 L183.50,457.00" fill="none" stroke="#000" stroke-width="4.2" stroke-linecap="round" stroke-linejoin="round" filter="url(#bl2)" opacity="1"/>
<path d="M193.00,458.20 L202.00,458.30 L210.30,458.10" fill="none" stroke="#000" stroke-width="4.2" stroke-linecap="round" stroke-linejoin="round" filter="url(#bl2)" opacity="1"/>
<path d="M219.00,457.80 L228.00,457.20 L235.30,456.30" fill="none" stroke="#000" stroke-width="4.2" stroke-linecap="round" stroke-linejoin="round" filter="url(#bl2)" opacity="1"/>
<text transform="translate(244.40,435.90) scale(0.9045,1)" font-size="8.3" text-anchor="start" fill="#3a3a3a" stroke="#3a3a3a" stroke-width="0.15">Dhcr24</text>
<text transform="translate(244.60,459.80) scale(0.9252,1)" font-size="8.3" text-anchor="start" fill="#3a3a3a" stroke="#3a3a3a" stroke-width="0.15">Tubulin</text>
<rect x="67.20" y="475.90" width="12.20" height="79.50" fill="#c92036"/>
<rect x="85.00" y="487.82" width="12.20" height="67.58" fill="#125087"/>
<rect x="103.10" y="525.99" width="12.20" height="29.41" fill="#3db54b"/>
<line x1="63.80" y1="475.90" x2="63.80" y2="555.90" stroke="#333333" stroke-width="1.1"/>
<line x1="61.30" y1="555.40" x2="119.00" y2="555.40" stroke="#333333" stroke-width="1.1"/>
<line x1="61.30" y1="555.40" x2="63.80" y2="555.40" stroke="#333333" stroke-width="1"/>
<text transform="translate(58.20,558.50) scale(0.8584,1)" font-size="8.8" text-anchor="end" fill="#3a3a3a" stroke="#3a3a3a" stroke-width="0.15">0.0</text>
<line x1="61.30" y1="539.50" x2="63.80" y2="539.50" stroke="#333333" stroke-width="1"/>
<text transform="translate(58.20,542.60) scale(0.8584,1)" font-size="8.8" text-anchor="end" fill="#3a3a3a" stroke="#3a3a3a" stroke-width="0.15">0.2</text>
<line x1="61.30" y1="523.60" x2="63.80" y2="523.60" stroke="#333333" stroke-width="1"/>
<text transform="translate(58.20,526.70) scale(0.8584,1)" font-size="8.8" text-anchor="end" fill="#3a3a3a" stroke="#3a3a3a" stroke-width="0.15">0.4</text>
<line x1="61.30" y1="507.70" x2="63.80" y2="507.70" stroke="#333333" stroke-width="1"/>
<text transform="translate(58.20,510.80) scale(0.8584,1)" font-size="8.8" text-anchor="end" fill="#3a3a3a" stroke="#3a3a3a" stroke-width="0.15">0.6</text>
<line x1="61.30" y1="491.80" x2="63.80" y2="491.80" stroke="#333333" stroke-width="1"/>
<text transform="translate(58.20,494.90) scale(0.8584,1)" font-size="8.8" text-anchor="end" fill="#3a3a3a" stroke="#3a3a3a" stroke-width="0.15">0.8</text>
<line x1="61.30" y1="475.90" x2="63.80" y2="475.90" stroke="#333333" stroke-width="1"/>
<text transform="translate(58.20,479.00) scale(0.8584,1)" font-size="8.8" text-anchor="end" fill="#3a3a3a" stroke="#3a3a3a" stroke-width="0.15">1.0</text>
<line x1="73.30" y1="555.40" x2="73.30" y2="558.70" stroke="#333333" stroke-width="1"/>
<line x1="91.10" y1="555.40" x2="91.10" y2="558.70" stroke="#333333" stroke-width="1"/>
<line x1="109.20" y1="555.40" x2="109.20" y2="558.70" stroke="#333333" stroke-width="1"/>
<text transform="translate(31.00,515.50) rotate(-90) scale(0.7268,1)" font-size="10.0" text-anchor="middle" fill="#3a3a3a" stroke="#3a3a3a" stroke-width="0.2">Relative expression of</text>
<text transform="translate(42.50,515.50) rotate(-90) scale(0.7348,1)" font-size="10.0" text-anchor="middle" fill="#3a3a3a" stroke="#3a3a3a" stroke-width="0.2">DHCR24 to Tubulin</text>
<text transform="translate(77.70,566.07) rotate(-45) scale(0.8804,1)" font-size="8.3" text-anchor="end" fill="#3a3a3a" stroke="#333" stroke-width="0.28">shCtrl</text>
<text transform="translate(96.20,566.07) rotate(-45) scale(0.8665,1)" font-size="8.3" text-anchor="end" fill="#3a3a3a" stroke="#333" stroke-width="0.28">shSOX9#1</text>
<text transform="translate(113.40,566.07) rotate(-45) scale(0.8665,1)" font-size="8.3" text-anchor="end" fill="#3a3a3a" stroke="#333" stroke-width="0.28">shSOX9#2</text>
<line x1="60.00" y1="592.90" x2="97.00" y2="592.90" stroke="#333" stroke-width="1.1"/>
<text transform="translate(78.70,601.80) scale(0.9082,1)" font-size="8.2" text-anchor="middle" fill="#3a3a3a" stroke="#3a3a3a" stroke-width="0.15">Karpas-422</text>
<rect x="195.20" y="475.00" width="12.20" height="80.20" fill="#c92036"/>
<rect x="213.00" y="519.11" width="12.20" height="36.09" fill="#125087"/>
<rect x="231.10" y="527.93" width="12.20" height="27.27" fill="#3db54b"/>
<line x1="191.80" y1="475.00" x2="191.80" y2="555.70" stroke="#333333" stroke-width="1.1"/>
<line x1="189.30" y1="555.20" x2="247.00" y2="555.20" stroke="#333333" stroke-width="1.1"/>
<line x1="189.30" y1="555.20" x2="191.80" y2="555.20" stroke="#333333" stroke-width="1"/>
<text transform="translate(186.20,558.30) scale(0.8584,1)" font-size="8.8" text-anchor="end" fill="#3a3a3a" stroke="#3a3a3a" stroke-width="0.15">0.0</text>
<line x1="189.30" y1="539.16" x2="191.80" y2="539.16" stroke="#333333" stroke-width="1"/>
<text transform="translate(186.20,542.26) scale(0.8584,1)" font-size="8.8" text-anchor="end" fill="#3a3a3a" stroke="#3a3a3a" stroke-width="0.15">0.2</text>
<line x1="189.30" y1="523.12" x2="191.80" y2="523.12" stroke="#333333" stroke-width="1"/>
<text transform="translate(186.20,526.22) scale(0.8584,1)" font-size="8.8" text-anchor="end" fill="#3a3a3a" stroke="#3a3a3a" stroke-width="0.15">0.4</text>
<line x1="189.30" y1="507.08" x2="191.80" y2="507.08" stroke="#333333" stroke-width="1"/>
<text transform="translate(186.20,510.18) scale(0.8584,1)" font-size="8.8" text-anchor="end" fill="#3a3a3a" stroke="#3a3a3a" stroke-width="0.15">0.6</text>
<line x1="189.30" y1="491.04" x2="191.80" y2="491.04" stroke="#333333" stroke-width="1"/>
<text transform="translate(186.20,494.14) scale(0.8584,1)" font-size="8.8" text-anchor="end" fill="#3a3a3a" stroke="#3a3a3a" stroke-width="0.15">0.8</text>
<line x1="189.30" y1="475.00" x2="191.80" y2="475.00" stroke="#333333" stroke-width="1"/>
<text transform="translate(186.20,478.10) scale(0.8584,1)" font-size="8.8" text-anchor="end" fill="#3a3a3a" stroke="#3a3a3a" stroke-width="0.15">1.0</text>
<line x1="201.30" y1="555.20" x2="201.30" y2="558.50" stroke="#333333" stroke-width="1"/>
<line x1="219.10" y1="555.20" x2="219.10" y2="558.50" stroke="#333333" stroke-width="1"/>
<line x1="237.20" y1="555.20" x2="237.20" y2="558.50" stroke="#333333" stroke-width="1"/>
<text transform="translate(159.00,515.50) rotate(-90) scale(0.7268,1)" font-size="10.0" text-anchor="middle" fill="#3a3a3a" stroke="#3a3a3a" stroke-width="0.2">Relative expression of</text>
<text transform="translate(170.50,515.50) rotate(-90) scale(0.7348,1)" font-size="10.0" text-anchor="middle" fill="#3a3a3a" stroke="#3a3a3a" stroke-width="0.2">DHCR24 to Tubulin</text>
<text transform="translate(205.70,566.07) rotate(-45) scale(0.8804,1)" font-size="8.3" text-anchor="end" fill="#3a3a3a" stroke="#333" stroke-width="0.28">shCtrl</text>
<text transform="translate(224.20,566.07) rotate(-45) scale(0.8665,1)" font-size="8.3" text-anchor="end" fill="#3a3a3a" stroke="#333" stroke-width="0.28">shSOX9#1</text>
<text transform="translate(241.40,566.07) rotate(-45) scale(0.8665,1)" font-size="8.3" text-anchor="end" fill="#3a3a3a" stroke="#333" stroke-width="0.28">shSOX9#2</text>
<line x1="190.00" y1="592.90" x2="226.20" y2="592.90" stroke="#555" stroke-width="1.1"/>
<text transform="translate(208.20,601.80) scale(0.8954,1)" font-size="8.2" text-anchor="middle" fill="#3a3a3a" stroke="#3a3a3a" stroke-width="0.15">DB</text>
<rect x="0" y="0" width="520" height="1" fill="#1a1a1a"/>
<rect x="0" y="0" width="1" height="609" fill="#1a1a1a"/>
<rect x="518.85" y="0" width="1.15" height="609" fill="#1a1a1a"/>
<rect x="0" y="607.85" width="520" height="1.15" fill="#1a1a1a"/>
</svg></body></html>
